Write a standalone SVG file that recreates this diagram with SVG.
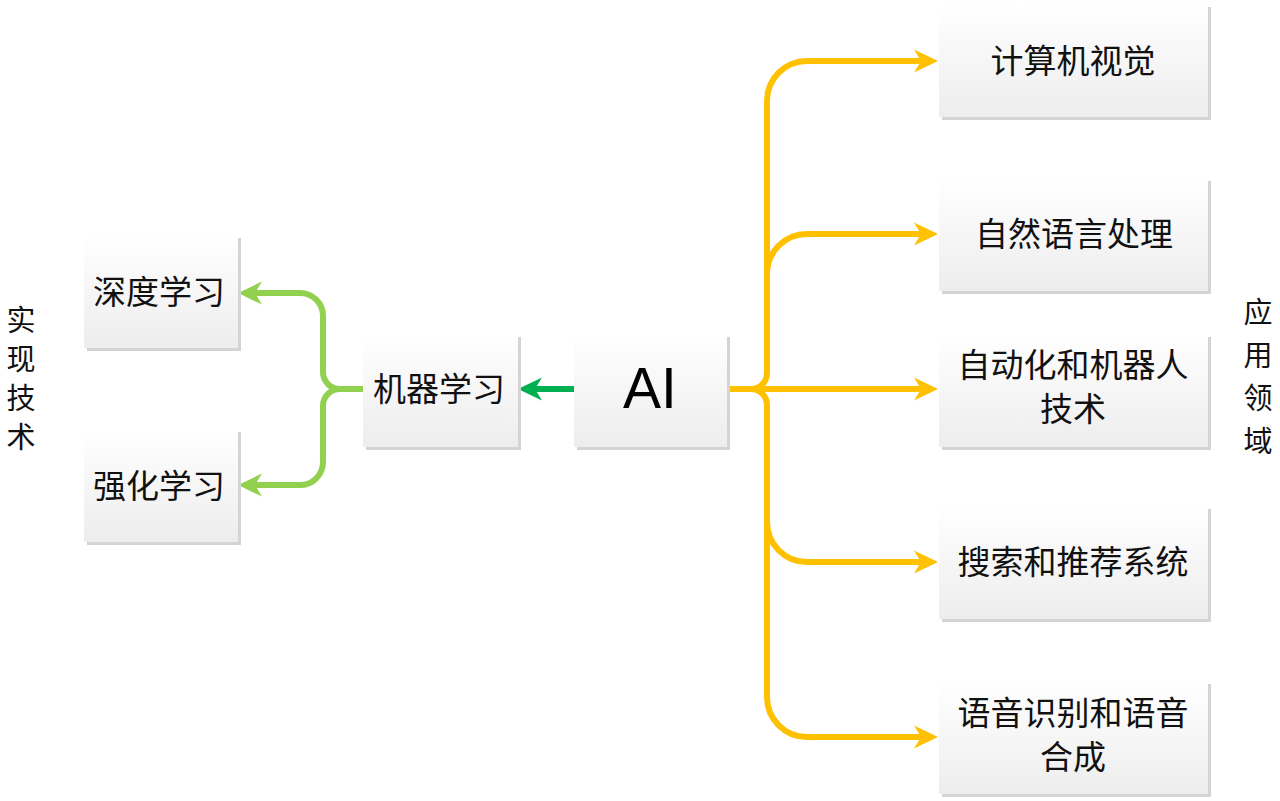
<svg xmlns="http://www.w3.org/2000/svg" width="1280" height="801" viewBox="0 0 1280 801">
  <style>
    .box { fill: url(#boxGrad); }
    .shadow { fill: #d4d4d4; }
    .t { font-family: "Noto Sans CJK SC", "Noto Sans", sans-serif; font-size: 33px; fill: #111; text-anchor: middle; }
    .side { font-family: "Noto Sans CJK SC", "Noto Sans", sans-serif; font-size: 29px; fill: #111; text-anchor: middle; }
    .ai { font-family: "Liberation Sans", Arial, sans-serif; font-size: 57px; fill: #000; text-anchor: middle; }
    .yl { fill: none; stroke: #FFC000; stroke-width: 6; }
    .gl { fill: none; stroke: #92D050; stroke-width: 6; }
    .dg { fill: none; stroke: #00B050; stroke-width: 6; }
  </style>
  <defs>
    <linearGradient id="boxGrad" x1="0" y1="0" x2="0" y2="1">
      <stop offset="0" stop-color="#ffffff"/>
      <stop offset="1" stop-color="#ededed"/>
    </linearGradient>
    <marker id="arrY" viewBox="0 0 24 24" refX="7" refY="12" markerWidth="24" markerHeight="24" markerUnits="userSpaceOnUse" orient="auto">
      <path d="M0,0.5 L24,12 L0,23.5 L7,12 Z" fill="#FFC000"/>
    </marker>
    <marker id="arrG" viewBox="0 0 24 24" refX="7" refY="12" markerWidth="24" markerHeight="24" markerUnits="userSpaceOnUse" orient="auto">
      <path d="M0,0.5 L24,12 L0,23.5 L7,12 Z" fill="#92D050"/>
    </marker>
    <marker id="arrDG" viewBox="0 0 24 24" refX="7" refY="12" markerWidth="24" markerHeight="24" markerUnits="userSpaceOnUse" orient="auto">
      <path d="M0,0.5 L24,12 L0,23.5 L7,12 Z" fill="#00B050"/>
    </marker>
  </defs>

  <rect width="1280" height="801" fill="#ffffff"/>

  <!-- side labels -->
  <g id="label-left">
    <text class="side"><tspan x="21" y="331">实</tspan><tspan x="21" y="370">现</tspan><tspan x="21" y="409">技</tspan><tspan x="21" y="448">术</tspan></text>
  </g>
  <g id="label-right">
    <text class="side"><tspan x="1258" y="323">应</tspan><tspan x="1258" y="366">用</tspan><tspan x="1258" y="409">领</tspan><tspan x="1258" y="452">域</tspan></text>
  </g>

  <!-- connectors -->
  <g id="connectors">
    <path class="dg" d="M575 389 H535" marker-end="url(#arrDG)"/>
    <path class="gl" d="M365 389 H340 A17 17 0 0 1 323 372 V316 A23 23 0 0 0 300 293 H255" marker-end="url(#arrG)"/>
    <path class="gl" d="M340 389 A17 17 0 0 0 323 406 V462 A23 23 0 0 1 300 485 H255" marker-end="url(#arrG)"/>
    <path class="yl" d="M727 389 H751 A16 16 0 0 0 767 373 V101 A40 40 0 0 1 807 61 H921" marker-end="url(#arrY)"/>
    <path class="yl" d="M751 389 A16 16 0 0 1 767 405 V697 A40 40 0 0 0 807 737 H921" marker-end="url(#arrY)"/>
    <path class="yl" d="M751 389 H921" marker-end="url(#arrY)"/>
    <path class="yl" d="M767 274 A40 40 0 0 1 807 234 H921" marker-end="url(#arrY)"/>
    <path class="yl" d="M767 522 A40 40 0 0 0 807 562 H921" marker-end="url(#arrY)"/>
  </g>

  <!-- nodes -->
  <g id="node-ai">
    <rect class="shadow" x="577" y="337" width="153" height="113"/>
    <rect class="box" x="574" y="334" width="153" height="113"/>
    <text class="ai" x="650" y="408">AI</text>
  </g>
  <g id="node-ml">
    <rect class="shadow" x="366" y="337" width="155" height="113"/>
    <rect class="box" x="363" y="334" width="155" height="113"/>
    <text class="t" x="439" y="401">机器学习</text>
  </g>
  <g id="node-dl">
    <rect class="shadow" x="87" y="238" width="154" height="113"/>
    <rect class="box" x="84" y="235" width="154" height="113"/>
    <text class="t" x="159" y="304">深度学习</text>
  </g>
  <g id="node-rl">
    <rect class="shadow" x="87" y="432" width="154" height="113"/>
    <rect class="box" x="84" y="429" width="154" height="113"/>
    <text class="t" x="159" y="498">强化学习</text>
  </g>
  <g id="node-cv">
    <rect class="shadow" x="942" y="7" width="269" height="113"/>
    <rect class="box" x="939" y="4" width="269" height="113"/>
    <text class="t" x="1073" y="73">计算机视觉</text>
  </g>
  <g id="node-nlp">
    <rect class="shadow" x="942" y="181" width="269" height="113"/>
    <rect class="box" x="939" y="178" width="269" height="113"/>
    <text class="t" x="1074" y="246">自然语言处理</text>
  </g>
  <g id="node-robot">
    <rect class="shadow" x="942" y="337" width="269" height="113"/>
    <rect class="box" x="939" y="334" width="269" height="113"/>
    <text class="t"><tspan x="1073" y="377">自动化和机器人</tspan><tspan x="1073" y="421">技术</tspan></text>
  </g>
  <g id="node-rec">
    <rect class="shadow" x="942" y="509" width="269" height="113"/>
    <rect class="box" x="939" y="506" width="269" height="113"/>
    <text class="t" x="1073" y="574">搜索和推荐系统</text>
  </g>
  <g id="node-speech">
    <rect class="shadow" x="942" y="684" width="269" height="113"/>
    <rect class="box" x="939" y="681" width="269" height="113"/>
    <text class="t"><tspan x="1073" y="725">语音识别和语音</tspan><tspan x="1073" y="769">合成</tspan></text>
  </g>
</svg>
